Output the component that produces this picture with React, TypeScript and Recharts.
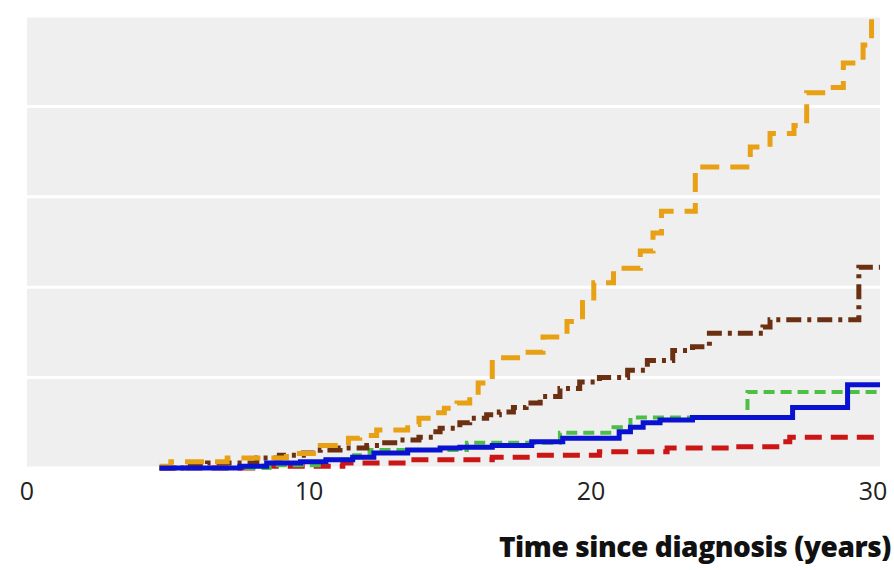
import { LineChart, Line, XAxis, YAxis, CartesianGrid } from "recharts";

const xTicks = [0, 10, 20, 30];
const yTicks = [0, 1, 2, 3, 4, 5];

const orangeT = [4.7, 5.1, 7.1, 9.2, 10.4, 11.4, 11.8, 12.4, 13.5, 13.9, 14.4, 14.8, 15.25, 15.7, 16.0, 16.5, 17.5, 18.3, 19.15, 19.7, 20.1, 20.8, 21.75, 22.2, 22.5, 23.7, 25.65, 26.35, 27.2, 27.65, 28.45, 28.95, 29.65, 29.95, 30.25];
const orangeV = [0.02, 0.07, 0.11, 0.16, 0.25, 0.33, 0.36, 0.42, 0.48, 0.55, 0.61, 0.66, 0.72, 0.8, 0.94, 1.22, 1.28, 1.45, 1.62, 1.83, 2.05, 2.21, 2.4, 2.6, 2.84, 3.33, 3.55, 3.7, 3.79, 4.15, 4.21, 4.48, 4.68, 4.99, 4.99];

const brownT = [4.7, 5.6, 6.4, 8.15, 8.95, 9.8, 10.4, 11.1, 12.05, 12.5, 13.2, 13.9, 14.4, 14.65, 15.35, 15.7, 16.3, 16.75, 17.25, 17.7, 18.2, 18.9, 19.6, 20.3, 21.3, 22.0, 22.9, 23.6, 24.2, 26.1, 26.35, 29.5, 30.25];
const brownV = [0, 0.03, 0.055, 0.11, 0.14, 0.165, 0.2, 0.22, 0.25, 0.28, 0.31, 0.34, 0.4, 0.44, 0.5, 0.55, 0.59, 0.62, 0.67, 0.72, 0.79, 0.88, 0.95, 1.0, 1.08, 1.19, 1.3, 1.34, 1.49, 1.56, 1.64, 2.22, 2.22];

const blueT = [4.7, 7.55, 8.5, 9.7, 10.6, 11.55, 12.3, 13.5, 14.65, 15.35, 16.5, 17.9, 19.0, 21.0, 21.4, 21.85, 22.45, 23.6, 27.15, 29.1, 30.25];
const blueV = [0, 0.02, 0.055, 0.07, 0.09, 0.12, 0.165, 0.2, 0.22, 0.23, 0.25, 0.29, 0.33, 0.4, 0.45, 0.5, 0.53, 0.56, 0.67, 0.92, 0.92];

const greenT = [4.7, 8.6, 10.6, 11.6, 12.15, 15.6, 18.9, 20.8, 21.4, 25.55, 30.25];
const greenV = [0, 0.03, 0.09, 0.14, 0.2, 0.28, 0.39, 0.45, 0.56, 0.84, 0.84];

const redT = [4.7, 8.0, 11.2, 13.5, 16.5, 17.95, 20.3, 22.7, 25.0, 26.7, 27.05, 30.25];
const redV = [0, 0.02, 0.055, 0.09, 0.12, 0.14, 0.18, 0.22, 0.235, 0.29, 0.34, 0.34];

const toRows = (t: number[], v: number[]) => t.map((x, i) => ({ t: x, v: v[i] }));

export default function App() {
  return (
    <div style={{ position: "absolute", left: 0, top: 0, width: 894, height: 570, background: "#fff" }}>
      <LineChart width={894} height={570} margin={{ top: 16, right: 14, bottom: 62, left: 27 }}>
        <CartesianGrid fill="#efefef" stroke="#ffffff" strokeWidth={3} vertical={false} />
        <XAxis
          type="number"
          dataKey="t"
          domain={[0, 30.25]}
          ticks={xTicks}
          height={40}
          axisLine={false}
          tickLine={false}
          tickSize={0}
          tickMargin={14}
          tick={{ fill: "#222", fontSize: 25, fontFamily: "Open Sans" }}
          allowDataOverflow
        />
        <YAxis type="number" domain={[0, 5]} ticks={yTicks} hide />
        <Line data={toRows(redT, redV)} dataKey="v" type="stepAfter" stroke="#cc1616" strokeWidth={5} strokeDasharray="17 9" dot={false} isAnimationActive={false} />
        <Line data={toRows(greenT, greenV)} dataKey="v" type="stepAfter" stroke="#4cbf44" strokeWidth={4} strokeDasharray="11 6" dot={false} isAnimationActive={false} />
        <Line data={toRows(brownT, brownV)} dataKey="v" type="stepAfter" stroke="#6b3012" strokeWidth={5} strokeDasharray="15 6 4 6" dot={false} isAnimationActive={false} />
        <Line data={toRows(orangeT, orangeV)} dataKey="v" type="stepAfter" stroke="#e8a015" strokeWidth={5} strokeDasharray="19 11" dot={false} isAnimationActive={false} />
        <Line data={toRows(blueT, blueV)} dataKey="v" type="stepAfter" stroke="#0a12d2" strokeWidth={5} dot={false} isAnimationActive={false} />
      </LineChart>
      <div
        style={{
          position: "absolute",
          right: 3,
          top: 527,
          fontFamily: "Open Sans",
          fontWeight: 800,
          fontSize: 28,
          color: "#111",
          letterSpacing: -0.4,
          whiteSpace: "nowrap",
        }}
      >
        Time since diagnosis (years)
      </div>
    </div>
  );
}
